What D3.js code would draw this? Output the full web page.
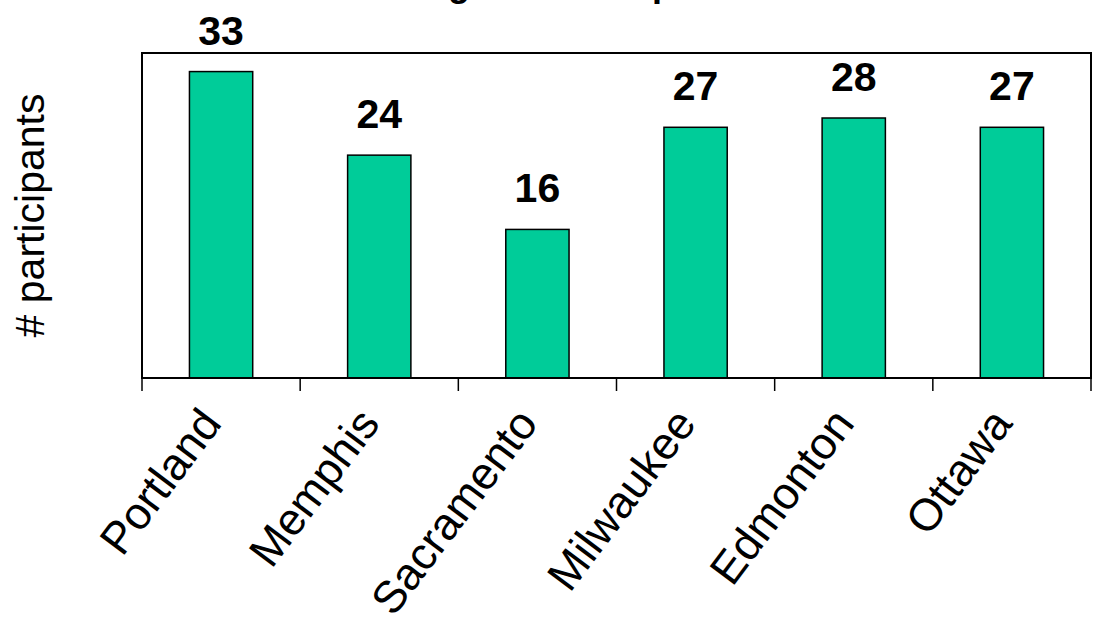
<!DOCTYPE html>
<html>
<head>
<meta charset="utf-8">
<script src="https://cdn.jsdelivr.net/npm/d3@7"></script>
<style>
  html, body { margin: 0; padding: 0; background: #fff; }
  svg { display: block; font-family: Arial, "Liberation Sans", sans-serif; }
</style>
</head>
<body>
<svg id="chart" width="1093" height="625"></svg>
<script>
// Participants per site
const cities = ["Portland", "Memphis", "Sacramento", "Milwaukee", "Edmonton", "Ottawa"];
const participants = [33, 24, 16, 27, 28, 27];
const chartTitle = "Eligible Participants";
const yLabel = "# participants";

const W = 1093, H = 625;
const plot = { left: 142, right: 1091, top: 53, bottom: 378 };

const svg = d3.select("#chart");

const x = d3.scaleBand()
  .domain(cities)
  .range([plot.left, plot.right])
  .paddingInner(0.6)
  .paddingOuter(0.3);

const y = d3.scaleLinear()
  .domain([0, 35])
  .range([plot.bottom, plot.top]);

// plot frame
svg.append("rect")
  .attr("x", plot.left)
  .attr("y", plot.top)
  .attr("width", plot.right - plot.left)
  .attr("height", plot.bottom - plot.top)
  .attr("fill", "#fff")
  .attr("stroke", "#000")
  .attr("stroke-width", 2);

// bars
svg.append("g")
  .selectAll("rect")
  .data(cities)
  .join("rect")
  .attr("x", d => x(d))
  .attr("y", (d, i) => y(participants[i]))
  .attr("width", x.bandwidth())
  .attr("height", (d, i) => y(0) - y(participants[i]))
  .attr("fill", "#00CC99")
  .attr("stroke", "#000")
  .attr("stroke-width", 1.5);

// category axis: ticks sit on the boundaries between categories
const boundaries = d3.range(cities.length + 1).map(i => plot.left + i * (plot.right - plot.left) / cities.length);
const xAxis = svg.append("g");
xAxis.append("line")
  .attr("x1", plot.left).attr("x2", plot.right)
  .attr("y1", plot.bottom).attr("y2", plot.bottom)
  .attr("stroke", "#000").attr("stroke-width", 2);
xAxis.selectAll("line.tick")
  .data(boundaries)
  .join("line")
  .attr("class", "tick")
  .attr("x1", d => d).attr("x2", d => d)
  .attr("y1", plot.bottom).attr("y2", plot.bottom + 13)
  .attr("stroke", "#000").attr("stroke-width", 1.5);

// rotated category labels
xAxis.selectAll("text")
  .data(cities)
  .join("text")
  .attr("transform", d => `translate(${x(d) + x.bandwidth() / 2 + 2},${plot.bottom + 46}) rotate(-53)`)
  .attr("text-anchor", "end")
  .attr("font-size", 45)
  .attr("fill", "#000")
  .text(d => d);

// value labels
svg.append("g")
  .selectAll("text")
  .data(cities)
  .join("text")
  .attr("x", d => x(d) + x.bandwidth() / 2)
  .attr("y", (d, i) => y(participants[i]) - 27)
  .attr("text-anchor", "middle")
  .attr("font-size", 41)
  .attr("font-weight", "bold")
  .attr("fill", "#000")
  .text((d, i) => participants[i]);

// y-axis title
svg.append("text")
  .attr("transform", `translate(44,${(plot.top + plot.bottom) / 2}) rotate(-90)`)
  .attr("text-anchor", "middle")
  .attr("font-size", 41)
  .attr("fill", "#000")
  .text(yLabel);

// chart title, running off the top edge
svg.append("text")
  .attr("x", 404)
  .attr("y", -4)
  .attr("text-anchor", "start")
  .attr("font-size", 36)
  .attr("font-weight", "bold")
  .attr("fill", "#000")
  .text(chartTitle);
</script>
</body>
</html>
